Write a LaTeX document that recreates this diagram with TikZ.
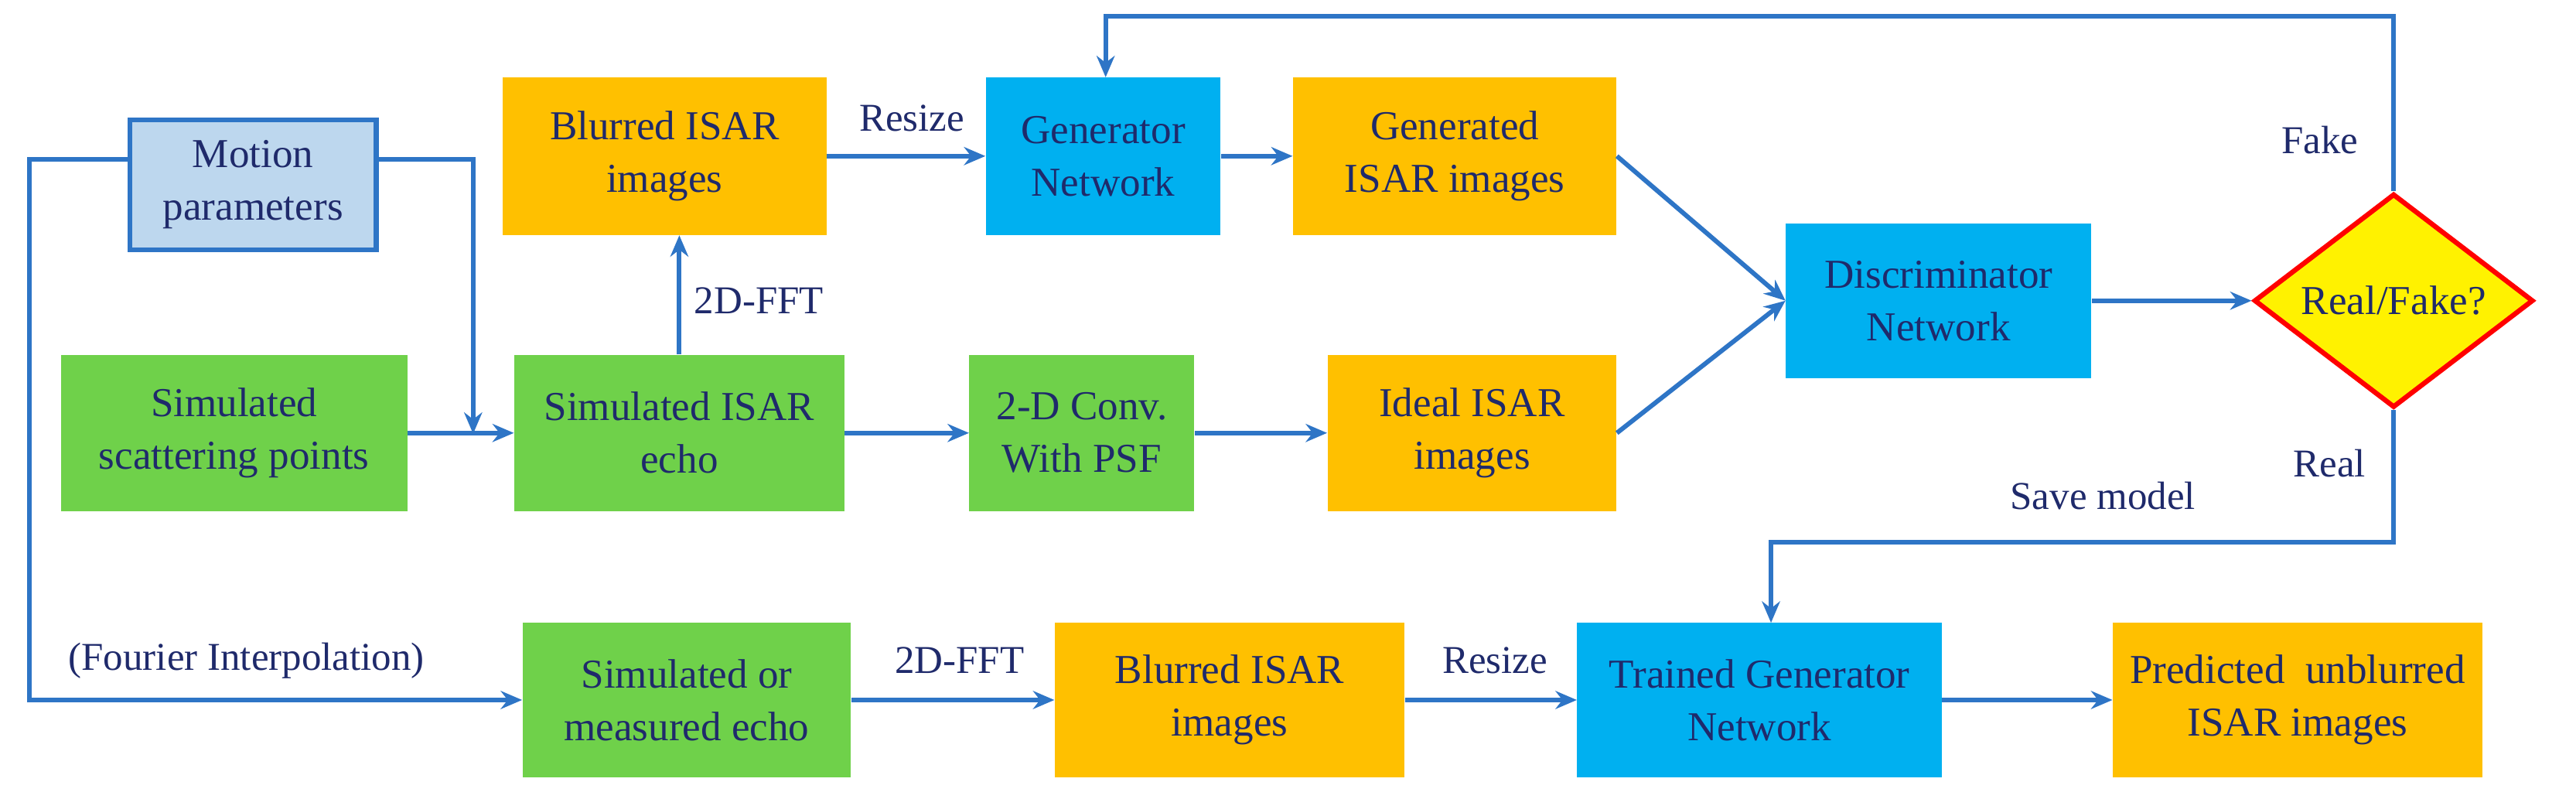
\documentclass[tikz,border=0pt]{standalone}
\usepackage{fontspec}
\setmainfont{Liberation Serif}
\usetikzlibrary{shapes.geometric,arrows.meta}
\definecolor{txt}{HTML}{1F2A6B}
\definecolor{ln}{HTML}{2E75C6}
\definecolor{org}{HTML}{FFC000}
\definecolor{blu}{HTML}{00B0F0}
\definecolor{grn}{HTML}{6FD14A}
\definecolor{lbl}{HTML}{BDD7EE}
\begin{document}
\begin{tikzpicture}[x=1pt,y=-1pt,
  every node/.style={text=txt,font=\fontsize{25}{32}\selectfont,align=center},
  box/.style={draw=none,inner sep=0pt},
  ob/.style={box,fill=org},
  bb/.style={box,fill=blu},
  gb/.style={box,fill=grn},
  con/.style={draw=ln,line width=2.8pt,-{Stealth[length=13pt,width=11pt]}},
  lab/.style={font=\fontsize{24}{28}\selectfont}]
\useasboundingbox (0,0) rectangle (1568,486);
\def\bx#1#2#3#4#5#6#7{\node[#2,minimum width=#5-#3,minimum height=#6-#4] (#1) at ({(#3+#5)/2},{(#4+#6)/2}) {#7};}
\bx{mot}{box,fill=lbl,draw=ln,line width=3pt}{79}{73}{229}{152}{Motion\\parameters}
\bx{blur}{ob}{306}{47}{503}{143}{Blurred ISAR\\images}
\bx{gen}{bb}{600}{47}{743}{143}{Generator\\Network}
\bx{gend}{ob}{787}{47}{984}{143}{Generated\\ISAR images}
\bx{dis}{bb}{1087}{136}{1273}{230}{Discriminator\\Network}
\node[diamond,draw=red,line width=3pt,fill=yellow,minimum width=170pt,minimum height=126pt,inner sep=0pt] (rf) at (1457,183) {Real/Fake?};
\bx{scat}{gb}{37}{216}{248}{311}{Simulated\\scattering points}
\bx{echo}{gb}{313}{216}{514}{311}{Simulated ISAR\\echo}
\bx{conv}{gb}{590}{216}{727}{311}{2-D Conv.\\With PSF}
\bx{ideal}{ob}{808}{216}{984}{311}{Ideal ISAR\\images}
\bx{meas}{gb}{318}{379}{518}{473}{Simulated or\\measured echo}
\bx{blur2}{ob}{642}{379}{855}{473}{Blurred ISAR\\images}
\bx{tgen}{bb}{960}{379}{1182}{473}{Trained Generator\\Network}
\bx{pred}{ob}{1286}{379}{1511}{473}{Predicted~ unblurred\\ISAR images}
\coordinate (j1) at (288,264);
\draw[con] (mot.east |- 0,97) -- (288,97) -- (j1);
\draw[con] (scat) -- (echo);
\draw[con] (mot.west |- 0,97) -- (18,97) -- (18,426) -- (meas.west);
\node[lab] at (150,402) {(Fourier Interpolation)};
\draw[con] (echo.north) -- (blur.south -| echo.north);
\node[lab] at (462,183) {2D-FFT};
\draw[con] (blur) -- (gen);
\node[lab] at (555,72) {Resize};
\draw[con] (gen) -- (gend);
\draw[con] (gend.east) -- (dis.west);
\draw[con] (ideal.east) -- (dis.west);
\draw[con] (echo) -- (conv);
\draw[con] (conv) -- (ideal);
\draw[con] (dis) -- (rf);
\draw[con] (rf.north) -- (1457,10) -- (673,10) -- (673,47);
\node[lab] at (1412,85) {Fake};
\draw[con] (rf.south) -- (1457,330) -- (1078,330) -- (1078,379);
\node[lab] at (1418,282) {Real};
\node[lab] at (1280,302) {Save model};
\draw[con] (meas) -- (blur2);
\node[lab] at (584,402) {2D-FFT};
\draw[con] (blur2) -- (tgen);
\node[lab] at (910,402) {Resize};
\draw[con] (tgen) -- (pred);
\end{tikzpicture}
\end{document}
